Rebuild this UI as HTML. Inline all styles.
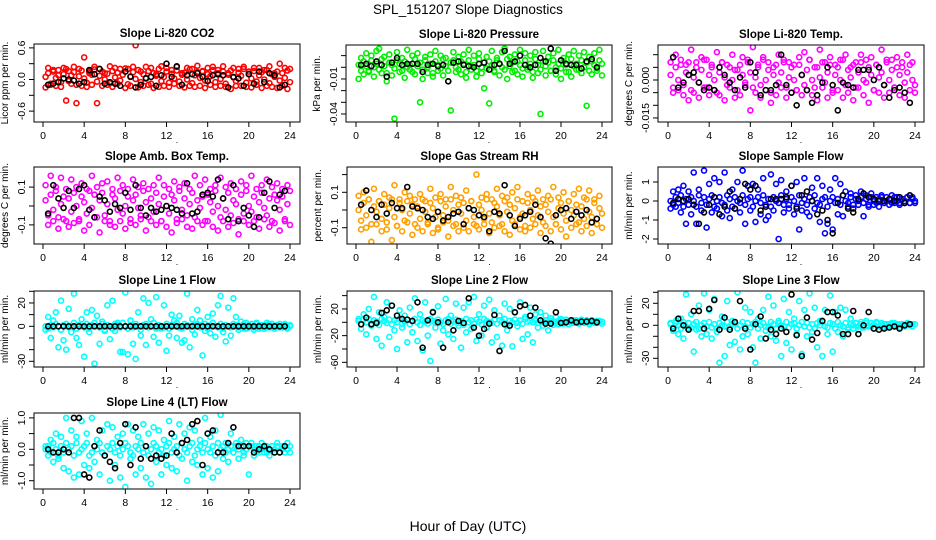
<!DOCTYPE html>
<html><head><meta charset="utf-8"><title>SPL_151207 Slope Diagnostics</title>
<style>
body{margin:0;background:#fff;}
svg{display:block;font-family:"Liberation Sans",Arial,sans-serif;}
.pt{font-weight:bold;font-size:11.5px;}
.tk{font-size:10.5px;}
.yt{font-size:10px;}
</style></head>
<body>
<svg id="chart" width="936" height="540" viewBox="0 0 936 540" xmlns="http://www.w3.org/2000/svg">
<rect width="936" height="540" fill="#fff"/>
<text x="468" y="14" text-anchor="middle" font-size="13.5">SPL_151207  Slope Diagnostics</text>
<text x="468" y="531" text-anchor="middle" font-size="14">Hour of Day (UTC)</text>
</svg>
<script>
// shared hour values
const hours=[0.25,0.5,0.75,1,1.25,1.5,1.75,2,2.25,2.5,2.75,3,3.25,3.5,3.75,4,4.25,4.5,4.75,5,5.25,5.5,5.75,6,6.25,6.5,6.75,7,7.25,7.5,7.75,8,8.25,8.5,8.75,9,9.25,9.5,9.75,10,10.25,10.5,10.75,11,11.25,11.5,11.75,12,12.25,12.5,12.75,13,13.25,13.5,13.75,14,14.25,14.5,14.75,15,15.25,15.5,15.75,16,16.25,16.5,16.75,17,17.25,17.5,17.75,18,18.25,18.5,18.75,19,19.25,19.5,19.75,20,20.25,20.5,20.75,21,21.25,21.5,21.75,22,22.25,22.5,22.75,23,23.25,23.5,23.75,24];
const blackHours=[0.5,1,1.5,2,2.5,3,3.5,4,4.5,5,5.5,6,6.5,7,7.5,8,8.5,9,9.5,10,10.5,11,11.5,12,12.5,13,13.5,14,14.5,15,15.5,16,16.5,17,17.5,18,18.5,19,19.5,20,20.5,21,21.5,22,22.5,23,23.5];
const xTicks=[0,4,8,12,16,20,24];

// Panel 1: CO2 (units 0.01 ppm/min)
const co2A=[5,12,-8,15,3,18,-5,10,20,-3,8,14,-10,6,17,2,-6,12,9,19,-4,7,15,0,11,-7,16,4,13,-2,9,21,-9,6,14,1,18,-5,10,3,16,-8,12,7,20,-3,5,15,-6,11,2,17,-4,9,13,0,19,-7,8,14,3,16,-2,10,6,18,-5,12,1,15,-8,9,17,4,-3,13,7,20,-6,11,2,16,-4,8,14,0,18,-7,10,5,15,-2,12,3,17,-5];
const co2B=[-15,22,-10,18,-12,8,-14,22,-40,16,-8,24,-45,20,-12,42,-14,15,-10,24,-45,20,-12,12,-10,25,-14,22,-8,20,-100,-16,20,-12,24,65,-15,15,-12,24,-10,22,-16,10,-14,25,-12,22,-14,18,-8,24,-12,12,-15,22,-12,20,-14,26,-12,15,-16,22,-10,24,-14,18,-12,25,-14,12,-18,22,-12,20,-12,24,-14,15,-15,22,-10,22,-16,18,-12,25,-14,12,-16,30,-12,22,-18,20];
const co2K=[-10,-8,-5,2,0,-2,-8,-5,18,10,20,-8,-5,-8,-12,15,5,-15,-10,2,5,-12,8,30,5,25,-10,8,10,12,5,-3,8,10,8,-15,5,2,-12,10,-8,15,-5,12,8,-15,-10];
const co2Ticks=[-60,-30,0,30,60];
const co2Labels=['-0.6','','0.0','','0.6'];
// Panel 2: pressure (units 0.001 kPa/min)
const presA=[2,-3,5,1,-4,6,0,3,-2,7,1,-5,4,2,-1,6,3,-3,5,0,2,-4,7,1,4,-2,6,0,3,-5,5,2,-1,7,1,-3,4,6,0,-2,5,3,-4,6,1,2,-3,7,0,4,-1,5,2,-4,6,3,0,-2,7,1,4,-3,5,2,-1,6,0,3,-4,7,2,-2,5,1,4,-3,6,0,3,-1,5,2,-4,7,1,3,-2,6,0,4,-3,5,2,-1,6,3];
const presB=[-10,8,-6,12,-3,10,-8,14,16,-5,9,-12,11,-7,-44,13,-4,8,-9,15,-2,10,-6,12,-30,-10,9,-5,11,-8,14,-3,10,-7,8,-12,-37,13,-4,9,-6,11,-9,15,-2,10,-8,12,-5,-18,9,-31,14,-3,8,-7,13,16,-10,9,-4,11,-6,15,-8,12,-2,10,-9,13,-5,-40,14,-7,9,-3,12,-6,15,-10,8,-4,11,-8,14,-2,10,-5,13,-33,9,-6,12,-3,15,-7];
const presK=[2,3,1,5,2,-8,4,8,2,3,3,3,-4,2,3,1,2,-12,4,5,2,1,0,3,4,-2,2,3,14,3,5,10,2,0,2,8,5,16,-3,6,3,2,2,-1,5,7,0];
const presTicks=[-40,-30,-20,-10,0,10];
const presLabels=['-0.04','','','-0.01','',''];
// Panel 3: Li-820 temp (units 0.001 C/min)
const tempA=[2,-3,5,0,6,-2,3,7,-4,1,5,-1,4,8,-3,2,6,0,-5,3,7,1,-2,5,0,4,-4,6,2,-1,7,3,-3,1,5,-2,8,0,4,-5,2,6,-1,3,7,-3,1,5,0,-4,6,2,-2,4,8,0,-3,5,1,7,-1,3,6,-4,2,5,0,8,-2,4,1,6,-3,3,7,0,-1,5,2,-4,6,1,3,-2,8,0,4,-3,5,2,7,-1,3,6,0,-2];
const tempB=[7,-5,10,-4,8,-6,6,-8,12,-5,7,-7,9,-3,8,-6,5,-4,11,-6,7,-8,6,-3,10,-7,4,-6,9,-2,8,-12,13,-5,6,-7,9,-4,7,-9,5,-6,10,-3,8,-7,7,-5,6,-4,9,-6,11,-4,8,-6,5,-8,12,-3,7,-7,9,-5,6,-4,8,-7,10,-5,5,-8,7,-3,10,-6,8,-9,9,-4,6,-5,12,-7,7,-5,8,-3,9,-6,5,-7,10,-4,7,-5];
const tempK=[9,-3,-1,2,3,-1,-4,-3,-4,5,2,-1,-4,1,-3,7,3,-6,-4,-4,-2,10,-2,-5,-10,2,-4,-9,-6,-1,5,-2,-12,-1,-2,-3,4,4,4,0,5,-2,-7,-4,-3,-5,-9];
const tempTicks=[-15,-10,-5,0,5,10];
const tempLabels=['-0.015','','','0.000','',''];
// Panel 4: amb box temp (units 0.01 C/min)
const ambA=[3,-5,6,-2,8,-6,1,5,-8,4,-3,7,0,-7,5,2,-4,8,-1,6,-6,3,7,-5,1,-8,6,4,-2,8,-4,0,5,-7,3,6,-1,-5,8,2,-6,4,-3,7,1,-8,5,0,-4,6,3,-7,8,-2,4,-5,1,7,-6,3,-1,5,-8,6,2,-3,8,0,-6,4,-2,7,-5,3,1,-7,6,-4,8,0,-3,5,-6,2,7,-1,-5,4,-8,6,3,-2,5,-7,1,8];
const ambB=[11,-10,16,-8,10,-12,15,-7,9,-11,14,-9,10,-8,12,-13,9,-10,16,-6,10,-14,12,-8,13,-10,9,-11,15,-8,11,-12,9,-9,14,-10,10,-7,12,-13,9,-8,11,-10,15,-8,11,-11,9,-14,13,-9,10,-7,12,-11,9,-12,16,-8,11,-10,14,-8,9,-11,11,-13,15,-8,10,-11,12,-9,9,-15,13,-8,11,-10,16,-8,9,-12,11,-7,14,-11,10,-9,12,-13,9,-8,11,-10];
const ambK=[-4,11,4,-1,8,-1,9,11,-2,-6,5,3,-3,1,-1,7,-2,11,-1,-5,-1,-3,-2,0,-1,-2,-4,12,-4,-3,6,7,5,14,4,-7,11,-8,-1,-5,-11,-6,7,13,-1,6,8];
const ambTicks=[-10,0,10];
const ambLabels=['-0.1','','0.1'];
// Panel 5: gas stream RH (units 0.01 %/min)
const rhA=[0,-6,4,-3,6,-8,2,-1,5,-5,3,-7,1,6,-4,-9,4,0,-6,5,-2,3,-8,2,-5,6,-1,-7,4,1,-4,-10,5,-3,2,-6,6,0,-8,3,-2,4,-6,1,5,-4,-9,3,0,-5,6,-2,-7,4,2,-3,-8,5,-1,3,-6,1,6,-4,-2,-9,4,0,-5,5,-3,2,-7,3,-1,6,-4,-8,1,4,-2,-6,5,0,-3,3,-7,2,-5,6,-1,-4,4,-8,1,-2];
const rhB=[8,-11,10,-10,6,-18,12,-8,5,-12,9,-11,7,-17,14,-9,6,-12,10,-7,8,-14,6,-10,9,-12,5,-8,12,-13,7,-11,9,-7,6,-15,13,-9,8,-12,7,-10,11,-12,5,-8,20,-11,7,-8,9,-13,6,-10,12,-9,8,-12,7,-14,10,-8,13,-11,5,-12,9,-10,7,-8,11,-13,6,-9,8,-12,13,-8,7,-11,10,-15,5,-10,9,-8,12,-12,7,-9,11,-13,6,-8,8,-10];
const rhK=[3,11,0,-4,3,-2,4,1,1,13,2,1,0,-4,-5,-1,-6,-4,-2,-1,-8,1,0,-3,-4,-12,-1,-2,14,-3,-9,-5,-3,-1,3,-4,-16,-19,-3,0,1,-5,-1,-3,0,-7,-5];
const rhTicks=[-10,0,10,20];
const rhLabels=['-0.1','','0.1',''];
// Panel 6: sample flow (units 0.1 ml/min per min)
const sfA=[0,-2,2,-1,3,-3,1,-2,2,0,-3,3,-1,2,-2,1,3,-3,0,2,-1,-2,3,1,-3,2,0,-1,3,-2,1,2,-3,0,2,-1,3,-2,1,-3,2,0,-1,3,-2,1,-2,2,0,-3,3,-1,1,-2,2,0,3,-1,-2,1,2,-3,0,2,-1,1,-2,3,0,-1,2,-2,1,0,2,-1,1,-2,2,0,-1,1,2,-1,0,1,-1,2,0,-1,1,0,2,-1,1,0];
const sfB=[-4,5,-3,6,-6,8,-12,5,-7,15,-12,6,-5,16,-14,9,-6,12,-4,10,-8,15,-5,-9,6,-4,10,-6,16,-12,8,-5,9,-11,6,-7,12,-10,-8,14,-5,9,-20,11,-6,5,-4,8,-7,10,-15,-5,12,-6,-8,7,-4,12,-11,8,-17,-12,6,-15,12,-7,9,-8,5,-3,4,-4,3,-2,5,-8,3,-3,4,-2,2,-3,3,-1,2,-2,3,-1,2,-2,1,-1,2,-1,2,-1];
const sfK=[-1,1,0,1,-2,-12,-6,-2,2,-7,-3,5,-4,1,9,6,8,-5,-3,1,1,1,2,8,-4,3,5,0,-7,-5,-10,-17,-1,3,-4,-6,1,4,2,1,0,0,1,0,2,-1,3];
const sfTicks=[-20,-10,0,10];
const sfLabels=['-2','-1','0','1'];
// Panel 7: line 1 flow (units 1)
const l1A=[0,-2,1,-1,2,0,-3,1,2,-1,0,3,-2,1,0,-1,2,-2,1,3,0,-1,2,-3,1,0,-2,2,1,-1,3,0,-2,1,-1,2,0,-3,1,2,-1,0,3,-2,1,0,-1,2,-2,1,0,3,-1,-2,2,1,0,-3,1,2,-1,0,2,-2,1,3,0,-1,2,-2,1,0,-1,2,1,-1,0,2,-2,1,0,-1,2,1,0,-2,1,2,-1,0,1,-1,0,2,-1,0];
const l1B=[-3,8,-10,5,12,-18,22,-12,-20,15,-5,28,-10,-16,6,-26,12,-5,14,-32,9,-15,4,-4,18,-11,22,-4,3,-22,-22,29,-24,5,-15,-28,12,-8,24,-16,20,6,-9,25,-14,-2,18,-21,-8,10,5,-10,9,-14,-12,28,-18,6,-7,14,5,-25,-4,8,-6,11,-9,18,26,-5,-13,16,-8,24,8,-3,4,-2,3,-1,2,-3,3,-2,1,-2,3,-1,2,-2,1,2,-1,1,-2,1];
const l1K=[0,0,0,0,0,0,0,0,0,0,0,0,0,0,0,0,0,0,0,0,0,0,0,0,0,0,0,0,0,0,0,0,0,0,0,0,0,0,0,0,0,0,0,0,0,0,0];
const l1Ticks=[-30,-20,-10,0,10,20,30];
const l1Labels=['-30','','','0','','20',''];
// Panel 8: line 2 flow (units 1)
const l2A=[2,-3,4,0,5,-2,3,1,-4,5,2,-1,4,-3,3,0,5,-2,1,4,-3,2,5,0,-4,3,1,-2,5,2,-1,4,0,-3,3,5,-2,1,4,-1,2,-4,5,0,3,-2,4,1,-3,5,2,0,-1,4,-2,3,1,5,-3,2,0,4,-1,3,-2,5,1,2,0,3,-1,2,1,3,0,2,1,-1,2,3,0,1,2,-1,3,1,0,2,1,3,0,2,1,-1,2,1];
const l2B=[5,-10,12,-18,20,-5,38,-25,15,-35,8,30,-22,25,-12,-40,18,-8,10,-30,22,-15,36,-28,12,-42,30,-20,-58,16,-8,24,-32,-12,35,-18,10,-25,28,-5,-38,22,-15,30,-10,38,-28,12,-20,25,-8,34,-30,18,-22,10,-35,28,-12,20,-36,15,-6,30,-25,8,-18,22,-30,12,-8,15,-5,10,-12,6,-4,8,-3,5,-2,4,-3,2,-1,3,-2,4,-1,2,-3,3,-1,2,1,-2];
const l2K=[-3,7,-3,-1,14,18,25,10,5,4,2,30,-38,3,15,0,-38,0,-12,2,-1,36,-8,-20,-10,-2,11,-43,-3,-5,15,24,26,10,22,3,-2,-2,15,-1,0,3,0,1,1,2,0];
const l2Ticks=[-60,-40,-20,0,20,40];
const l2Labels=['-60','','-20','','20',''];
// Panel 9: line 3 flow (units 1)
const l3A=[1,-2,2,0,-3,3,-1,2,-2,1,3,-3,0,2,-1,3,-2,1,-3,2,0,-1,3,-2,1,2,-3,0,3,-1,2,-2,1,3,-3,0,2,-1,-2,3,1,-3,2,0,-1,3,-2,1,2,-3,0,3,-1,2,-2,1,-3,2,0,3,-1,-2,2,1,-3,3,0,-1,2,-2,1,0,2,-1,1,-2,2,0,-1,1,2,-1,0,1,-2,1,0,2,-1,1,0,-1,1,0,1];
const l3B=[2,-5,4,-8,6,-12,28,-3,10,-24,-4,18,-10,29,-8,14,-12,24,-6,-34,8,-28,22,-18,4,-15,30,-22,-10,16,-8,12,-20,-34,6,-12,14,-5,26,-10,18,-14,4,-28,24,-16,12,-22,6,-8,22,-26,14,-10,29,-6,16,-20,4,-28,14,-8,27,-24,12,-6,16,-10,14,-4,6,-3,2,-4,3,-2,4,-1,2,-3,3,-1,2,-2,1,-1,2,-1,1,-2,1,-1,2,0,-1,1];
const l3K=[-3,6,0,-4,13,13,-3,15,23,-4,7,-4,3,22,-3,-22,1,8,-12,-4,-8,-3,-6,28,-9,-28,7,-13,-7,4,12,12,9,-8,-8,13,-8,0,12,-3,-4,-3,-2,-1,-3,0,1];
const l3Ticks=[-30,-20,-10,0,10,20,30];
const l3Labels=['-30','','','0','','20',''];
// Panel 10: line 4 (LT) flow (units 0.1)
const l4A=[0,1,-1,2,0,-2,1,-1,2,0,1,-2,2,-1,0,1,2,-2,-1,1,0,2,-1,-2,1,0,2,-1,1,-2,0,2,1,-1,-2,1,0,2,-1,1,-2,0,2,1,-1,0,-2,1,2,-1,0,1,-2,2,0,-1,1,2,-2,0,1,-1,2,0,-1,1,-2,2,0,1,-1,0,1,-1,1,0,1,-1,0,1,1,0,-1,1,0,1,-1,0,1,0,1,-1,0,1,0,1];
const l4B=[1,-2,3,-4,5,-3,4,-6,10,-7,6,-9,4,-8,9,-5,5,-6,10,-4,3,-8,6,-2,8,-10,7,-5,4,-9,5,-12,8,-3,6,-8,4,-6,8,-9,5,-11,7,-4,6,-8,3,-5,9,-6,4,-7,8,-3,5,-10,7,-4,6,-5,3,-8,10,-6,4,-9,6,-7,11,-3,2,-4,5,-1,2,-3,3,-2,2,-8,2,-2,1,-1,2,-1,1,-2,1,-1,2,-1,1,-1,2,-1];
const l4K=[0,-1,-1,0,-1,10,10,-8,-9,1,6,-2,-4,-6,2,8,-5,7,-3,1,-3,-2,-3,-2,5,-1,2,3,8,9,-5,5,6,-1,-1,2,7,1,1,1,-1,0,1,0,-1,-1,1];
const l4Ticks=[-10,-5,0,5,10];
const l4Labels=['-1.0','','0.0','','1.0'];

const NS='http://www.w3.org/2000/svg';
const svg=document.getElementById('chart');
function mk(tag,attrs,parent){const e=document.createElementNS(NS,tag);for(const k in attrs)e.setAttribute(k,attrs[k]);(parent||svg).appendChild(e);return e;}

const panels=[
 {id:'co2',title:'Slope Li-820 CO2',yt:'Licor ppm per min.',col:'#ff0000',A:co2A,B:co2B,K:co2K,ticks:co2Ticks,labels:co2Labels,box:[34,44,300,122],x0:43,x1:290,y0:79.5,k:0.527},
 {id:'pressure',title:'Slope Li-820 Pressure',yt:'kPa per min.',col:'#00ee00',A:presA,B:presB,K:presK,ticks:presTicks,labels:presLabels,box:[346,45,612,122],x0:356,x1:602,y0:67.3,k:1.167},
 {id:'li820-temp',title:'Slope Li-820 Temp.',yt:'degrees C per min.',col:'#ff00ff',A:tempA,B:tempB,K:tempK,ticks:tempTicks,labels:tempLabels,box:[658,45,924,122],x0:668,x1:915,y0:80,k:2.53},
 {id:'amb-box-temp',title:'Slope Amb. Box Temp.',yt:'degrees C per min.',col:'#ff00ff',A:ambA,B:ambB,K:ambK,ticks:ambTicks,labels:ambLabels,box:[34,167,300,244],x0:43,x1:290,y0:206,k:1.89},
 {id:'gas-stream-rh',title:'Slope Gas Stream RH',yt:'percent per min.',col:'#ffa000',A:rhA,B:rhB,K:rhK,ticks:rhTicks,labels:rhLabels,box:[347,167,612,244],x0:356,x1:602,y0:210,k:1.77},
 {id:'sample-flow',title:'Slope Sample Flow',yt:'ml/min per min.',col:'#0000ff',A:sfA,B:sfB,K:sfK,ticks:sfTicks,labels:sfLabels,box:[658,167,924,244],x0:668,x1:915,y0:201,k:1.9},
 {id:'line1-flow',title:'Slope Line 1 Flow',yt:'ml/min per min.',col:'#00ffff',A:l1A,B:l1B,K:l1K,ticks:l1Ticks,labels:l1Labels,box:[34,291,300,367],x0:43,x1:290,y0:326.3,k:1.167},
 {id:'line2-flow',title:'Slope Line 2 Flow',yt:'ml/min per min.',col:'#00ffff',A:l2A,B:l2B,K:l2K,ticks:l2Ticks,labels:l2Labels,box:[347,291,612,367],x0:356,x1:602,y0:322.3,k:0.667},
 {id:'line3-flow',title:'Slope Line 3 Flow',yt:'ml/min per min.',col:'#00ffff',A:l3A,B:l3B,K:l3K,ticks:l3Ticks,labels:l3Labels,box:[658,291,924,367],x0:668,x1:915,y0:325.3,k:1.1},
 {id:'line4-flow',title:'Slope Line 4 (LT) Flow',yt:'ml/min per min.',col:'#00ffff',A:l4A,B:l4B,K:l4K,ticks:l4Ticks,labels:l4Labels,box:[34,413,300,489],x0:43,x1:290,y0:449.3,k:3.14}
];

panels.forEach(p=>{
  const g=mk('g',{});
  
  
  const [L,T,R,B]=p.box;
  const xs=h=>p.x0+(p.x1-p.x0)*h/24;
  const ys=v=>p.y0-v*p.k;
  const cx=(L+R)/2;
  const tt=mk('text',{x:cx,y:T-7,'text-anchor':'middle',class:'pt'},g);
  tt.textContent=p.title;
  
  
  const clipId='clip-'+p.id;
  const cp=mk('clipPath',{id:clipId},g);
  mk('rect',{x:L,y:T,width:R-L,height:B-T},cp);
  const pts=mk('g',{'clip-path':'url(#'+clipId+')',fill:'none','stroke-width':1.6},g);
  
  
  [p.A,p.B].forEach(arr=>{
    const n=Math.min(arr.length,hours.length);
    for(let i=0;i<n;i++){
      const c=mk('circle',{cx:xs(hours[i]),cy:ys(arr[i]),r:2.5,stroke:p.col},pts);
      
      
    }
  });
  const nk=Math.min(p.K.length,blackHours.length);
  for(let i=0;i<nk;i++){
    const c=mk('circle',{cx:xs(blackHours[i]),cy:ys(p.K[i]),r:2.5,stroke:'#000'},pts);
    
    
  }
  const box=mk('rect',{x:L,y:T,width:R-L,height:B-T,fill:'none',stroke:'#000','stroke-width':1},g);
  
  
  xTicks.forEach(t=>{
    const x=xs(t);
    mk('line',{x1:x,y1:B,x2:x,y2:B+5,stroke:'#000'},g);
    const lb=mk('text',{x:x,y:B+17,'text-anchor':'middle',class:'tk'},g);
    lb.textContent=t;
    
    
  });
  p.ticks.forEach((t,i)=>{
    const y=ys(t);
    if(y<T-1||y>B+1)return;
    mk('line',{x1:L,y1:y,x2:L-5,y2:y,stroke:'#000'},g);
    if(p.labels[i]){
      const lb=mk('text',{x:L-9,y:y,'text-anchor':'middle',class:'tk',transform:'rotate(-90 '+(L-9)+' '+y+')'},g);
      lb.textContent=p.labels[i];
      
      
    }
  });
  const ytx=L-26, yty=(T+B)/2;
  const yl=mk('text',{x:ytx,y:yty,'text-anchor':'middle',class:'yt',transform:'rotate(-90 '+ytx+' '+yty+')'},g);
  yl.textContent=p.yt;
  
  
  const dot=mk('text',{x:cx+10,y:B+21,'text-anchor':'middle','font-size':9},g);
  dot.textContent='.';
});
</script>
</body></html>
